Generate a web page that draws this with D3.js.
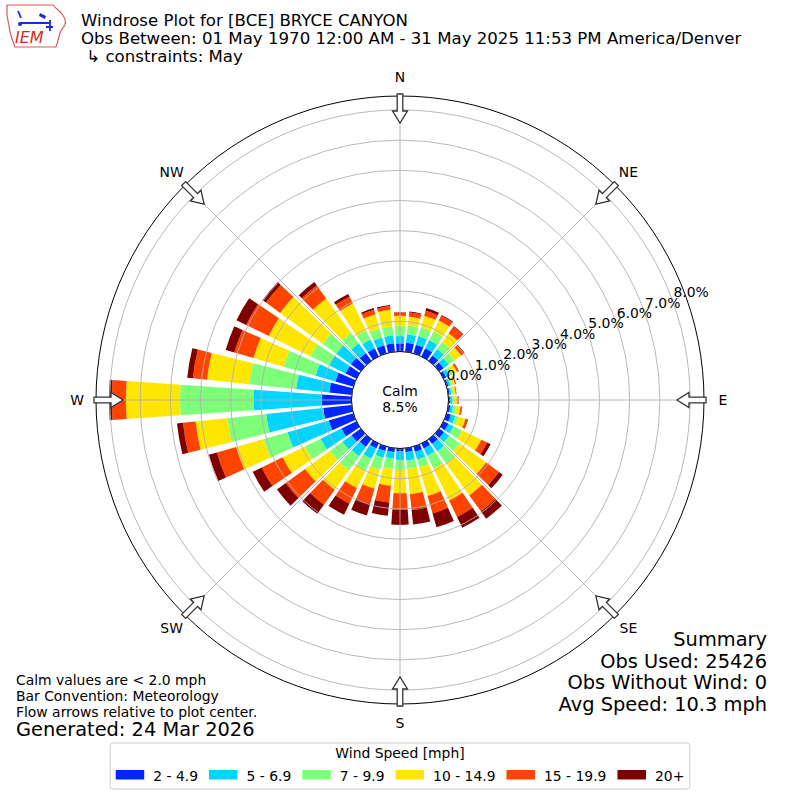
<!DOCTYPE html>
<html><head><meta charset="utf-8">
<script src="https://cdn.jsdelivr.net/npm/d3@7"></script>
<style>body{margin:0;background:#fff}svg{display:block}text{font-family:"DejaVu Sans",sans-serif;fill:#000}</style>
</head><body><svg id="c" width="800" height="800"></svg>
<script>
// ---------- data ----------
const directions = [0,10,20,30,40,50,60,70,80,90,100,110,120,130,140,150,160,170,180,190,200,210,220,230,240,250,260,270,280,290,300,310,320,330,340,350];
const speedBins = ["2 - 4.9","5 - 6.9","7 - 9.9","10 - 14.9","15 - 19.9","20+"];
const binColors = ["#0026ff","#00d4ff","#7dff7a","#ffe600","#ff4400","#7f0000"];
const s2to5   = [0.27,0.30,0.30,0.30,0.22,0.18,0.10,0.06,0.05,0.06,0.07,0.15,0.18,0.20,0.20,0.18,0.18,0.13,0.10,0.13,0.15,0.18,0.32,0.38,0.55,0.85,0.95,0.99,0.75,0.62,0.40,0.41,0.32,0.30,0.28,0.28];
const s5to7   = [0.24,0.28,0.30,0.30,0.26,0.20,0.12,0.07,0.06,0.07,0.09,0.15,0.19,0.21,0.30,0.27,0.27,0.28,0.28,0.22,0.24,0.38,0.38,0.37,0.77,1.42,1.90,2.26,1.10,0.68,0.60,0.58,0.40,0.32,0.27,0.27];
const s7to10  = [0.33,0.30,0.30,0.32,0.29,0.24,0.13,0.07,0.06,0.07,0.10,0.11,0.32,0.43,0.50,0.47,0.27,0.28,0.33,0.34,0.41,0.44,0.57,0.52,0.58,0.82,1.29,2.43,1.56,1.10,0.70,0.57,0.43,0.33,0.30,0.30];
const s10to15 = [0.34,0.29,0.40,0.40,0.36,0.28,0.15,0.09,0.08,0.10,0.15,0.24,0.70,1.08,1.30,1.18,0.98,0.84,0.77,0.56,0.65,0.64,0.80,1.01,0.82,0.95,1.06,1.79,1.41,1.04,1.53,1.74,1.40,1.00,0.50,0.55];
const s15to20 = [0.10,0.14,0.17,0.18,0.27,0.12,0.06,0.03,0.03,0.03,0.05,0.07,0.22,0.53,0.65,0.60,0.60,0.53,0.56,0.56,0.52,0.57,0.61,0.79,0.77,0.66,0.42,0.47,0.47,0.66,0.83,0.58,0.53,0.25,0.15,0.12];
const s20plus = [0.02,0.03,0.09,0.03,0.02,0.02,0.01,0.01,0.00,0.01,0.01,0.02,0.12,0.15,0.30,0.40,0.48,0.48,0.49,0.44,0.40,0.41,0.37,0.36,0.33,0.28,0.20,0.09,0.19,0.30,0.36,0.14,0.14,0.10,0.06,0.04];
const radialTicks = [0,1,2,3,4,5,6,7,8];
const compassLabels = ["N","NE","E","SE","S","SW","W","NW"];
const compassAngles = [0,45,90,135,180,225,270,315];
const calmPct = 8.5;
const titleLines = ["Windrose Plot for [BCE] BRYCE CANYON","Obs Between: 01 May 1970 12:00 AM - 31 May 2025 11:53 PM America/Denver"," \u21b3 constraints: May"];
const summaryLines = ["Summary","Obs Used: 25426","Obs Without Wind: 0","Avg Speed: 10.3 mph"];
const noteLines = ["Calm values are < 2.0 mph","Bar Convention: Meteorology","Flow arrows relative to plot center."];
const generatedText = "Generated: 24 Mar 2026";
const legendTitle = "Wind Speed [mph]";

// ---------- setup ----------
const svg = d3.select("#c");
const cx = 400, cy = 400;
const r = d3.scaleLinear().domain([0, 8]).range([48.5, 290.1]);
const outerR = r(8.46);
const rad = d => d * Math.PI / 180;
const series = [s2to5, s5to7, s7to10, s10to15, s15to20, s20plus];
const keys = speedBins;
const rows = directions.map((dir, i) => {
  const o = {dir};
  keys.forEach((k, j) => o[k] = series[j][i]);
  return o;
});
const stacked = d3.stack().keys(keys)(rows);
const arc = d3.arc();
const plot = svg.append("g").attr("transform", `translate(${cx},${cy})`);

// bars
stacked.forEach((layer, k) => {
  plot.append("g").selectAll("path").data(layer).join("path")
    .attr("d", d => arc({innerRadius: r(d[0]), outerRadius: r(d[1]),
      startAngle: rad(d.data.dir - 4), endAngle: rad(d.data.dir + 4)}))
    .attr("fill", binColors[k]);
});

// grid
const grid = plot.append("g").attr("fill", "none").attr("stroke", "#b0b0b0").attr("stroke-width", 0.9);
grid.selectAll("circle").data(radialTicks).join("circle").attr("r", d => r(d));
grid.selectAll("line").data(compassAngles).join("line")
  .attr("x1", 0).attr("y1", 0)
  .attr("x2", d => outerR * Math.sin(rad(d)))
  .attr("y2", d => -outerR * Math.cos(rad(d)));

// calm circle
plot.append("circle").attr("r", r(0)).attr("fill", "#fff").attr("stroke", "#000").attr("stroke-width", 1);
plot.append("text").attr("x", 0).attr("y", -4).attr("text-anchor", "middle").attr("font-size", 13.9).text("Calm");
plot.append("text").attr("x", 0).attr("y", 12).attr("text-anchor", "middle").attr("font-size", 13.9).text(calmPct.toFixed(1) + "%");

// outer circle
plot.append("circle").attr("r", outerR).attr("fill", "none").attr("stroke", "#000").attr("stroke-width", 1);

// arrows
const arrowShape = [[outerR + 2, -2.8], [outerR - 15, -2.8], [outerR - 15, -7.5], [outerR - 27, 0], [outerR - 15, 7.5], [outerR - 15, 2.8], [outerR + 2, 2.8]];
plot.append("g").selectAll("polygon").data(compassAngles).join("polygon")
  .attr("points", a => arrowShape.map(([rr, w]) => {
    const t = rad(a);
    const x = rr * Math.sin(t) + w * Math.cos(t);
    const y = -rr * Math.cos(t) + w * Math.sin(t);
    return x.toFixed(2) + "," + y.toFixed(2);
  }).join(" "))
  .attr("fill", "#fff").attr("stroke", "#333").attr("stroke-width", 1.3);

// compass labels
plot.append("g").selectAll("text").data(compassAngles).join("text")
  .attr("x", a => 323 * Math.sin(rad(a)))
  .attr("y", a => -323 * Math.cos(rad(a)))
  .attr("text-anchor", "middle").attr("dominant-baseline", "central").attr("font-size", 13.9)
  .text((a, i) => compassLabels[i]);

// radial tick labels
const la = rad(20);
plot.append("g").selectAll("text").data(radialTicks).join("text")
  .attr("x", d => r(d) * Math.cos(la) + 18.5)
  .attr("y", d => -r(d) * Math.sin(la) - 8.3)
  .attr("text-anchor", "middle").attr("dominant-baseline", "central").attr("font-size", 13.9)
  .text(d => d.toFixed(1) + "%");

// title
svg.append("g").selectAll("text").data(titleLines).join("text")
  .attr("x", 81).attr("y", (d, i) => [26, 43.5, 62][i]).attr("font-size", 16.6)
  .attr("xml:space", "preserve").style("white-space", "pre").text(d => d);

// summary
svg.append("g").selectAll("text").data(summaryLines).join("text")
  .attr("x", 767).attr("y", (d, i) => 646 + i * 21.5).attr("text-anchor", "end").attr("font-size", 19.4).text(d => d);

// notes
svg.append("g").selectAll("text").data(noteLines).join("text")
  .attr("x", 16).attr("y", (d, i) => 685 + i * 15.8).attr("font-size", 13.9).text(d => d);
svg.append("text").attr("x", 16).attr("y", 736).attr("font-size", 19.4).text(generatedText);

// legend
const leg = svg.append("g");
const box = leg.append("rect").attr("y", 743).attr("height", 46).attr("rx", 3)
  .attr("fill", "#fff").attr("stroke", "#cccccc").attr("stroke-width", 1);
leg.append("text").attr("x", 400).attr("y", 758).attr("text-anchor", "middle").attr("font-size", 13.9).text(legendTitle);
const items = leg.append("g");
let xpos = 0;
speedBins.forEach((lab, i) => {
  items.append("rect").attr("x", xpos).attr("y", 770).attr("width", 28.5).attr("height", 9.5).attr("fill", binColors[i]);
  const t = items.append("text").attr("x", xpos + 37.5).attr("y", 780.5).attr("font-size", 13.9).text(lab);
  xpos += 37.5 + t.node().getComputedTextLength() + 11;
});
const itemsW = xpos - 11;
items.attr("transform", `translate(${400 - itemsW / 2},0)`);
box.attr("x", 400 - itemsW / 2 - 5.5).attr("width", itemsW + 11);

// IEM logo
const logo = svg.append("g");
logo.append("path")
  .attr("d", "M7,5 L53,5 C56,9 60,11 62,14 C65,18 66,22 65,25 C63,28 61,30 60,33 C59,37 58,40 57,44 L56,47 L15,47 C13,42 11,36 10,32 C9,26 8,20 7,15 Z")
  .attr("fill", "#fff").attr("stroke", "#d85a5a").attr("stroke-width", 1.2);
logo.append("path").attr("d", "M21,23 L50,23 M18,11 L21,18 M50,20 L50,31 M46,27 L53,27")
  .attr("stroke", "#1a2bd4").attr("stroke-width", 1.8).attr("fill", "none");
logo.append("path").attr("d", "M40,13 L46,16 L45,19 L39,16 Z").attr("fill", "#1a2bd4");
logo.append("circle").attr("cx", 20).attr("cy", 24).attr("r", 2).attr("fill", "#1a2bd4");
logo.append("text").attr("x", 15).attr("y", 43).attr("font-family", "Liberation Serif, serif").attr("font-style", "italic")
  .attr("font-size", 16).style("fill", "#d42a2a").text("IEM");
</script></body></html>
